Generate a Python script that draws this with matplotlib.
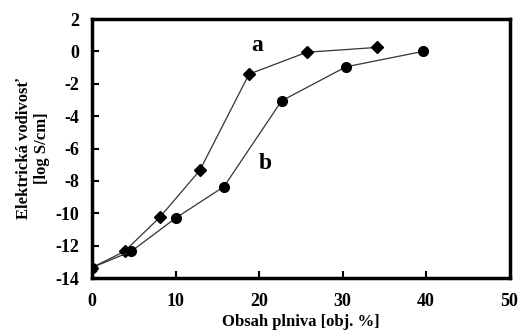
import matplotlib.pyplot as plt

# Series a (diamonds)
x_a = [0, 3.9, 8.1, 12.9, 18.8, 25.7, 34.1]
y_a = [-13.35, -12.35, -10.25, -7.35, -1.4, -0.05, 0.25]
# Series b (circles)
x_b = [0, 4.7, 10.0, 15.8, 22.7, 30.4, 39.6]
y_b = [-13.35, -12.35, -10.3, -8.35, -3.05, -0.95, 0.0]

xticks = [0, 10, 20, 30, 40, 50]
yticks = [2, 0, -2, -4, -6, -8, -10, -12, -14]

plt.rcParams['font.family'] = 'Liberation Serif'
plt.rcParams['font.weight'] = 'bold'
plt.rcParams['axes.unicode_minus'] = False

fig = plt.figure(figsize=(5.2, 3.35), dpi=100)
ax = fig.add_axes([0.177, 0.170, 0.803, 0.773])

ax.plot(x_a, y_a, color='#333333', lw=0.9, marker='D', ms=6.5,
        mfc='black', mec='black')
ax.plot(x_b, y_b, color='#333333', lw=0.9, marker='o', ms=7,
        mfc='black', mec='black')

ax.text(19.8, 0.35, 'a', fontsize=17, fontweight='bold', ha='center', va='center')
ax.text(20.7, -6.9, 'b', fontsize=17, fontweight='bold', ha='center', va='center')

ax.set_xlim(0, 50)
ax.set_ylim(-14, 2)
ax.set_xticks(xticks)
ax.set_yticks(yticks)
ax.tick_params(direction='in', length=5, width=1.5, labelsize=13)
ax.tick_params(axis='x', pad=11)
ax.tick_params(axis='y', pad=9)
for s in ax.spines.values():
    s.set_linewidth(2.5)
for lab in ax.get_xticklabels() + ax.get_yticklabels():
    lab.set_fontweight('bold')

ax.set_xlabel('Obsah plniva [obj. %]', fontsize=12, fontweight='bold', labelpad=3)
ax.set_ylabel('Elektrická vodivosť\n[log S/cm]', fontsize=12, fontweight='bold',
              labelpad=4, linespacing=1.15)

fig.savefig('out.png', dpi=100)
